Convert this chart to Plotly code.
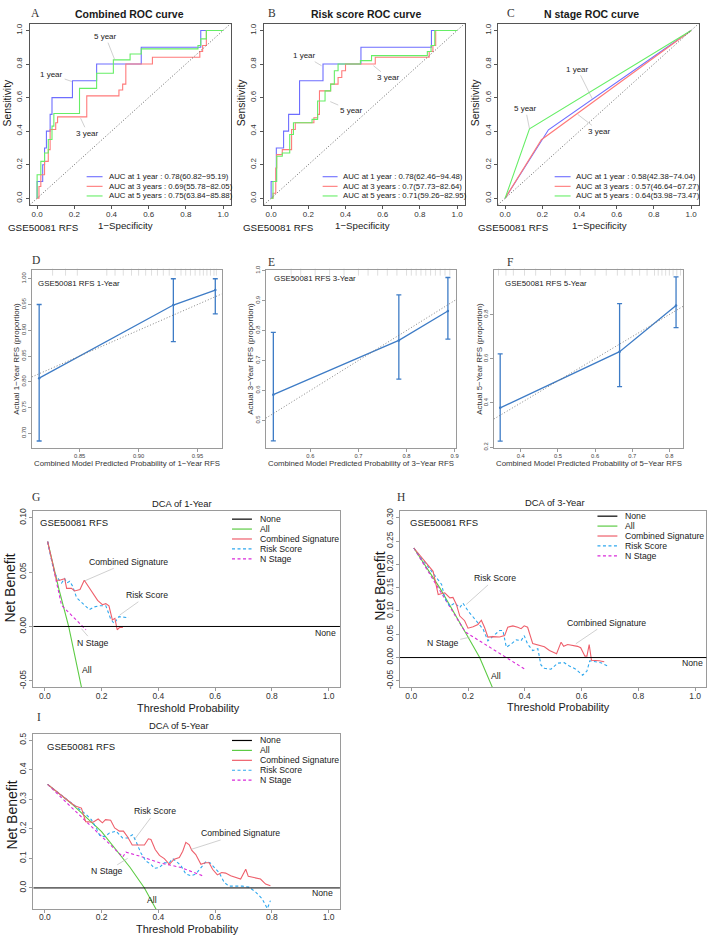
import plotly.graph_objects as go

W, H = 711, 941
SANS = "Liberation Sans, Arial, Helvetica, sans-serif"
SERIF = "Liberation Serif, Times New Roman, serif"

# ======================= DATA =======================
# ---- A: Combined ROC curve (1-specificity, sensitivity) ----
A_fpr_1y = [0, 0, 0.03, 0.03, 0.04, 0.04, 0.05, 0.05, 0.07, 0.07, 0.08, 0.08, 0.19, 0.19, 0.32, 0.32, 0.56, 0.56, 0.88, 0.88, 1.0]
A_tpr_1y = [0, 0.1, 0.1, 0.2, 0.2, 0.3, 0.3, 0.4, 0.4, 0.5, 0.5, 0.6, 0.6, 0.7, 0.7, 0.8, 0.8, 0.9, 0.9, 1.0, 1.0]
A_fpr_3y = [0, 0.01, 0.01, 0.02, 0.02, 0.04, 0.04, 0.06, 0.06, 0.07, 0.07, 0.10, 0.10, 0.11, 0.11, 0.267, 0.267, 0.44, 0.44, 0.46, 0.46, 0.477, 0.477, 0.62, 0.62, 0.875, 0.875, 0.89, 0.89, 0.91, 0.91, 1.0]
A_tpr_3y = [0, 0, 0.07, 0.07, 0.14, 0.14, 0.22, 0.22, 0.29, 0.29, 0.41, 0.41, 0.45, 0.45, 0.485, 0.485, 0.61, 0.61, 0.645, 0.645, 0.68, 0.68, 0.80, 0.80, 0.84, 0.84, 0.875, 0.875, 0.91, 0.91, 1.0, 1.0]
A_fpr_5y = [0, 0, 0.02, 0.02, 0.04, 0.04, 0.06, 0.06, 0.08, 0.08, 0.09, 0.09, 0.228, 0.228, 0.32, 0.32, 0.41, 0.41, 0.50, 0.50, 0.56, 0.56, 0.865, 0.865, 0.88, 0.88, 0.91, 0.91, 1.0]
A_tpr_5y = [0, 0.14, 0.14, 0.22, 0.22, 0.27, 0.27, 0.35, 0.35, 0.43, 0.43, 0.505, 0.505, 0.655, 0.655, 0.745, 0.745, 0.825, 0.825, 0.86, 0.86, 0.89, 0.89, 0.91, 0.91, 0.95, 0.95, 1.0, 1.0]
A_legend = ["AUC at 1 year : 0.78(60.82\u221295.19)",
            "AUC at 3 years : 0.69(55.78\u221282.05)",
            "AUC at 5 years : 0.75(63.84\u221285.88)"]

# ---- B: Risk score ROC curve ----
B_fpr_1y = [0, 0, 0.028, 0.028, 0.067, 0.067, 0.094, 0.094, 0.153, 0.153, 0.279, 0.279, 0.483, 0.483, 0.862, 0.862, 1.0]
B_tpr_1y = [0, 0.1, 0.1, 0.3, 0.3, 0.4, 0.4, 0.5, 0.5, 0.7, 0.7, 0.8, 0.8, 0.9, 0.9, 1.0, 1.0]
B_fpr_3y = [0, 0.01, 0.01, 0.025, 0.025, 0.03, 0.03, 0.06, 0.06, 0.11, 0.11, 0.13, 0.13, 0.23, 0.23, 0.25, 0.25, 0.26, 0.26, 0.32, 0.32, 0.36, 0.36, 0.38, 0.38, 0.40, 0.40, 0.56, 0.56, 0.85, 0.85, 0.87, 0.87, 0.885, 0.885, 1.0]
B_tpr_3y = [0, 0, 0.03, 0.03, 0.18, 0.18, 0.26, 0.26, 0.29, 0.29, 0.41, 0.41, 0.45, 0.45, 0.48, 0.48, 0.50, 0.50, 0.64, 0.64, 0.68, 0.68, 0.72, 0.72, 0.76, 0.76, 0.80, 0.80, 0.84, 0.84, 0.875, 0.875, 0.91, 0.91, 1.0, 1.0]
B_fpr_5y = [0, 0.01, 0.01, 0.03, 0.03, 0.06, 0.06, 0.10, 0.10, 0.12, 0.12, 0.22, 0.22, 0.25, 0.25, 0.29, 0.29, 0.32, 0.32, 0.34, 0.34, 0.36, 0.36, 0.48, 0.48, 0.54, 0.54, 0.84, 0.84, 0.86, 0.86, 0.88, 0.88, 1.0]
B_tpr_5y = [0, 0, 0.1, 0.1, 0.25, 0.25, 0.27, 0.27, 0.38, 0.38, 0.45, 0.45, 0.47, 0.47, 0.58, 0.58, 0.64, 0.64, 0.68, 0.68, 0.76, 0.76, 0.80, 0.80, 0.82, 0.82, 0.85, 0.85, 0.875, 0.875, 0.91, 0.91, 1.0, 1.0]
B_legend = ["AUC at 1 year : 0.78(62.46\u221294.48)",
            "AUC at 3 years : 0.7(57.73\u221282.64)",
            "AUC at 5 years : 0.71(59.26\u221282.95)"]

# ---- C: N stage ROC curve ----
C_fpr_1y = [0, 0.233, 1.0]
C_tpr_1y = [0, 0.408, 1.0]
C_fpr_3y = [0, 0.195, 1.0]
C_tpr_3y = [0, 0.349, 1.0]
C_fpr_5y = [0, 0.131, 1.0]
C_tpr_5y = [0, 0.414, 1.0]
C_legend = ["AUC at 1 year : 0.58(42.38\u221274.04)",
            "AUC at 3 years : 0.57(46.64\u221267.27)",
            "AUC at 5 years : 0.64(53.98\u221273.47)"]

roc_ticks = [0, 0.2, 0.4, 0.6, 0.8, 1.0]
roc_ticklabels = ["0.0", "0.2", "0.4", "0.6", "0.8", "1.0"]

# ---- D-F: calibration (predicted, observed, CI) ----
D_pred = [0.8156, 0.9295, 0.9651]
D_obs = [0.807, 0.949, 0.978]
D_lo = [0.685, 0.878, 0.932]
D_hi = [0.950, 1.000, 1.000]
D_rug = [0.827, 0.838, 0.848, 0.873, 0.880, 0.887, 0.894, 0.900, 0.906, 0.911, 0.916, 0.921,
         0.926, 0.931, 0.936, 0.940, 0.944, 0.948, 0.952, 0.955, 0.958, 0.961, 0.964, 0.966]
D_xticks, D_xlabels = [0.85, 0.90, 0.95], ["0.85", "0.90", "0.95"]
D_yticks = [0.70, 0.75, 0.80, 0.85, 0.90, 0.95, 1.00]
D_ylabels = ["0.70", "0.75", "0.80", "0.85", "0.90", "0.95", "1.00"]

E_pred = [0.523, 0.784, 0.886]
E_obs = [0.586, 0.767, 0.865]
E_lo = [0.432, 0.638, 0.771]
E_hi = [0.794, 0.919, 0.977]
E_rug = [0.56, 0.58, 0.61, 0.64, 0.67, 0.70, 0.72, 0.74, 0.76, 0.78, 0.80, 0.81,
         0.82, 0.83, 0.84, 0.85, 0.86, 0.87, 0.88, 0.89]
E_xticks, E_xlabels = [0.6, 0.7, 0.8, 0.9], ["0.6", "0.7", "0.8", "0.9"]
E_yticks = [0.5, 0.6, 0.7, 0.8, 0.9, 1.0]
E_ylabels = ["0.5", "0.6", "0.7", "0.8", "0.9", "1.0"]

F_pred = [0.3445, 0.666, 0.818]
F_obs = [0.378, 0.632, 0.841]
F_lo = [0.228, 0.474, 0.741]
F_hi = [0.622, 0.849, 0.970]
F_rug = [0.34, 0.36, 0.38, 0.41, 0.44, 0.48, 0.52, 0.56, 0.60, 0.63, 0.66, 0.68,
         0.70, 0.72, 0.74, 0.76, 0.77, 0.78, 0.79, 0.80, 0.81, 0.82, 0.83]
F_xticks, F_xlabels = [0.4, 0.5, 0.6, 0.7, 0.8], ["0.4", "0.5", "0.6", "0.7", "0.8"]
F_yticks, F_ylabels = [0.2, 0.4, 0.6, 0.8], ["0.2", "0.4", "0.6", "0.8"]

# ---- G: DCA of 1-Year ----
G_all_x = [0.01, 0.05, 0.084, 0.13]
G_all_y = [0.078, 0.034, 0.0, -0.057]
G_comb_x = [0.01, 0.029, 0.036, 0.041, 0.052, 0.070, 0.077, 0.094, 0.105, 0.124, 0.139, 0.157,
            0.172, 0.186, 0.203, 0.215, 0.226, 0.238, 0.247, 0.255, 0.263, 0.275]
G_comb_y = [0.078, 0.057, 0.047, 0.0425, 0.0425, 0.044, 0.035, 0.035, 0.0327, 0.034, 0.0425, 0.035,
            0.030, 0.024, 0.020, 0.021, 0.019, 0.006, 0.0075, -0.003, -0.001, -0.001]
G_risk_x = [0.01, 0.031, 0.041, 0.059, 0.070, 0.077, 0.088, 0.098, 0.112, 0.129, 0.157, 0.174,
            0.191, 0.215, 0.232, 0.244, 0.261, 0.296]
G_risk_y = [0.078, 0.052, 0.046, 0.040, 0.044, 0.040, 0.0415, 0.037, 0.0265, 0.022, 0.0155, 0.018,
            0.019, 0.019, 0.007, 0.0027, 0.009, 0.008]
G_n_x = [0.01, 0.059, 0.145]
G_n_y = [0.078, 0.0195, -0.003]
G_yticks, G_ylabels = [-0.05, 0.0, 0.05, 0.10], ["-0.05", "0.00", "0.05", "0.10"]

# ---- H: DCA of 3-Year ----
H_all_x = [0.009, 0.1, 0.2, 0.241, 0.29]
H_all_y = [0.235, 0.15, 0.044, 0.0, -0.07]
H_comb_x = [0.009, 0.077, 0.095, 0.118, 0.136, 0.147, 0.159, 0.171, 0.188, 0.200, 0.218, 0.235,
            0.247, 0.258, 0.270, 0.288, 0.311, 0.329, 0.340, 0.358, 0.375, 0.387, 0.398, 0.410,
            0.428, 0.452, 0.469, 0.487, 0.504, 0.512, 0.528, 0.537, 0.551, 0.568, 0.586, 0.597,
            0.612, 0.619, 0.627, 0.635, 0.650, 0.662, 0.680]
H_comb_y = [0.235, 0.185, 0.135, 0.139, 0.128, 0.129, 0.114, 0.089, 0.079, 0.063, 0.066, 0.071,
            0.080, 0.065, 0.044, 0.045, 0.044, 0.047, 0.065, 0.068, 0.065, 0.062, 0.068, 0.065,
            0.030, 0.026, 0.023, 0.015, 0.0105, 0.008, 0.033, 0.024, 0.028, 0.026, 0.024, 0.021,
            0.003, 0.003, 0.028, -0.006, -0.006, -0.007, -0.009]
H_risk_x = [0.009, 0.077, 0.089, 0.107, 0.118, 0.136, 0.153, 0.171, 0.182, 0.200, 0.218, 0.235,
            0.253, 0.270, 0.288, 0.311, 0.323, 0.335, 0.352, 0.370, 0.387, 0.398, 0.410, 0.428,
            0.446, 0.457, 0.469, 0.492, 0.516, 0.539, 0.557, 0.580, 0.604, 0.619, 0.629, 0.645,
            0.668, 0.691]
H_risk_y = [0.235, 0.181, 0.171, 0.157, 0.128, 0.110, 0.117, 0.107, 0.117, 0.100, 0.087, 0.075,
            0.061, 0.036, 0.045, 0.058, 0.058, 0.022, 0.029, 0.038, 0.036, 0.047, 0.029, 0.015,
            0.019, -0.016, -0.023, -0.025, -0.012, -0.011, -0.018, -0.025, -0.038, -0.029, -0.007, -0.009,
            -0.011, -0.018]
H_n_x = [0.009, 0.19, 0.398]
H_n_y = [0.235, 0.055, -0.024]
H_yticks = [-0.05, 0.0, 0.05, 0.10, 0.15, 0.20, 0.25, 0.30]
H_ylabels = ["-0.05", "0.00", "0.05", "0.10", "0.15", "0.20", "0.25", "0.30"]

# ---- I: DCA of 5-Year ----
I_all_x = [0.01, 0.1, 0.2, 0.3, 0.351, 0.392]
I_all_y = [0.35, 0.28, 0.19, 0.07, 0.0, -0.072]
I_comb_x = [0.01, 0.105, 0.129, 0.144, 0.170, 0.188, 0.203, 0.214, 0.232, 0.246, 0.263, 0.277,
            0.292, 0.308, 0.327, 0.351, 0.365, 0.374, 0.389, 0.404, 0.421, 0.439, 0.456, 0.474,
            0.486, 0.497, 0.509, 0.518, 0.532, 0.550, 0.565, 0.579, 0.591, 0.608, 0.623, 0.637,
            0.655, 0.673, 0.690, 0.708, 0.717, 0.737, 0.760, 0.778, 0.795]
I_comb_y = [0.35, 0.278, 0.270, 0.224, 0.222, 0.233, 0.220, 0.231, 0.229, 0.203, 0.192, 0.192,
            0.172, 0.145, 0.145, 0.145, 0.166, 0.164, 0.130, 0.110, 0.099, 0.080, 0.097, 0.103,
            0.124, 0.154, 0.146, 0.127, 0.113, 0.080, 0.085, 0.085, 0.063, 0.044, 0.052, 0.050,
            0.041, 0.035, 0.030, 0.063, 0.039, 0.035, 0.030, 0.013, 0.007]
I_risk_x = [0.01, 0.105, 0.146, 0.164, 0.181, 0.193, 0.211, 0.228, 0.251, 0.274, 0.292, 0.309,
            0.321, 0.338, 0.356, 0.374, 0.386, 0.404, 0.421, 0.439, 0.450, 0.462, 0.480, 0.497,
            0.515, 0.532, 0.550, 0.568, 0.582, 0.596, 0.614, 0.632, 0.649, 0.673, 0.696, 0.719,
            0.743, 0.766, 0.784, 0.795]
I_risk_y = [0.35, 0.278, 0.248, 0.231, 0.203, 0.178, 0.173, 0.186, 0.192, 0.169, 0.169, 0.180,
            0.158, 0.119, 0.091, 0.080, 0.066, 0.069, 0.085, 0.085, 0.099, 0.091, 0.075, 0.047,
            0.041, 0.047, 0.069, 0.089, 0.085, 0.069, 0.052, 0.019, 0.006, 0.006, 0.006, 0.003,
            -0.014, -0.037, -0.070, -0.043]
I_n_x = [0.01, 0.275, 0.286, 0.333, 0.404, 0.480, 0.556]
I_n_y = [0.35, 0.105, 0.121, 0.108, 0.085, 0.069, 0.041]
I_yticks, I_ylabels = [0.0, 0.1, 0.2, 0.3, 0.4, 0.5], ["0.0", "0.1", "0.2", "0.3", "0.4", "0.5"]

dca_xticks = [0, 0.2, 0.4, 0.6, 0.8, 1.0]
dca_xlabels = ["0.0", "0.2", "0.4", "0.6", "0.8", "1.0"]
dca_series = ["None", "All", "Combined Signature", "Risk Score", "N Stage"]

# ======================= STYLE =======================
ROC_COL = ["#6E6EFF", "#FF7A7A", "#66EE66"]
CAL_COL = "#3E7CC6"
DCA_COL = {"None": "#000000", "All": "#5DCB45", "Combined Signature": "#EE5F6B",
           "Risk Score": "#2FA8EE", "N Stage": "#D92BD9"}
DCA_DASH = {"None": "solid", "All": "solid", "Combined Signature": "solid",
            "Risk Score": "3px,2.5px", "N Stage": "3px,2.5px"}
DOT = "1px,2px"

fig = go.Figure()
layout = {}
annotations = []
shapes = []


def names(i):
    return ("xaxis" if i == 1 else f"xaxis{i}", "yaxis" if i == 1 else f"yaxis{i}",
            "x" if i == 1 else f"x{i}", "y" if i == 1 else f"y{i}")


def setup_axes(i, box, xr, yr, xt, xl, yt, yl, tsize, lcolor, tcolor="#333", xstand=0):
    xn, yn, xref, yref = names(i)
    l, r, t, b = box
    common = dict(showgrid=False, zeroline=False, showline=True, mirror=True,
                  linecolor=lcolor, linewidth=1, ticks="outside", ticklen=3,
                  tickwidth=0.8, tickcolor=lcolor, fixedrange=True)
    layout[xn] = dict(domain=[l / W, r / W], range=xr, tickvals=xt, ticktext=xl,
                      ticklabelstandoff=xstand,
                      tickfont=dict(size=tsize, color=tcolor, family=SANS), anchor=yref, **common)
    layout[yn] = dict(domain=[1 - b / H, 1 - t / H], range=yr, tickvals=yt, ticktext=yl,
                      tickangle=-90, tickfont=dict(size=tsize, color=tcolor, family=SANS),
                      anchor=xref, **common)
    return xref, yref


def text(px, py, s, size, family=SANS, color="#1a1a1a", xanchor="center", angle=0):
    annotations.append(dict(x=px / W, y=1 - py / H, xref="paper", yref="paper", text=s,
                            showarrow=False, font=dict(size=size, family=family, color=color),
                            xanchor=xanchor, yanchor="middle", textangle=angle))


def pointer(xref, yref, tip, s, dx, dy, size):
    annotations.append(dict(x=tip[0], y=tip[1], xref=xref, yref=yref, text=s, showarrow=True,
                            arrowhead=0, arrowwidth=0.6, arrowcolor="#b0b0b0", ax=dx, ay=dy,
                            standoff=0, font=dict(size=size, family=SANS, color="#1a1a1a")))


def legend_item(x0, x1, tx, py, color, dash, label, size, width=1.1):
    shapes.append(dict(type="line", xref="paper", yref="paper", x0=x0 / W, x1=x1 / W,
                       y0=1 - py / H, y1=1 - py / H, line=dict(color=color, width=width, dash=dash)))
    text(tx, py, label, size, xanchor="left")


# ======================= ROC PANELS =======================
roc_panels = [
    dict(i=1, box=(29.8, 231.5, 19.9, 202.5), title="Combined ROC curve", title_x=130.5, letter="A", letter_x=36,
         curves=[(A_fpr_1y, A_tpr_1y), (A_fpr_3y, A_tpr_3y), (A_fpr_5y, A_tpr_5y)], legend=A_legend,
         leg_x=(87, 103, 107), ylab_x=7.3, gse_x=43.4, spec_x=126,
         ptrs=[((0.417, 0.826), "5 year", -9, -23), ((0.186, 0.696), "1 year", -20, -7),
               ((0.234, 0.477), "3 year", 7, 15)]),
    dict(i=2, box=(264.8, 466.5, 19.9, 202.5), title="Risk score ROC curve", title_x=368, letter="B", letter_x=273,
         curves=[(B_fpr_1y, B_tpr_1y), (B_fpr_3y, B_tpr_3y), (B_fpr_5y, B_tpr_5y)], legend=B_legend,
         leg_x=(324, 339, 342), ylab_x=242, gse_x=280, spec_x=364,
         ptrs=[((0.271, 0.79), "1 year", -17, -10), ((0.55, 0.79), "3 year", 15, 12),
               ((0.318, 0.576), "5 year", 21, 9)]),
    dict(i=3, box=(499.8, 701.5, 19.9, 202.5), title="N stage ROC curve", title_x=594.5, letter="C", letter_x=513,
         curves=[(C_fpr_1y, C_tpr_1y), (C_fpr_3y, C_tpr_3y), (C_fpr_5y, C_tpr_5y)], legend=C_legend,
         leg_x=(557, 573, 576), ylab_x=477, gse_x=516, spec_x=602,
         ptrs=[((0.47, 0.59), "1 year", -15, -30), ((0.131, 0.414), "5 year", -4, -20),
               ((0.39, 0.50), "3 year", 22, 17)]),
]
for p in roc_panels:
    xr_, yr_ = setup_axes(p["i"], p["box"], [-0.04, 1.04], [-0.04, 1.04], roc_ticks, roc_ticklabels,
                          roc_ticks, roc_ticklabels, 8, "#555555", xstand=-2)
    shapes.append(dict(type="line", xref=xr_ + " domain", yref=yr_ + " domain", x0=0, y0=0, x1=1, y1=1,
                       line=dict(color="#555555", width=0.9, dash=DOT)))
    for (fx, ty), col in zip(p["curves"], ROC_COL):
        fig.add_trace(go.Scatter(x=fx, y=ty, mode="lines", line=dict(color=col, width=1.1),
                                 xaxis=xr_, yaxis=yr_, hoverinfo="skip"))
    text(p["title_x"], 10, "<b>" + p["title"] + "</b>", 10.5)
    text(p["letter_x"], 9, p["letter"], 11.5, family=SERIF, color="#333")
    text(p["ylab_x"], 99, "Sensitivity", 10.4, angle=-90)
    text(p["gse_x"], 225, "GSE50081 RFS", 9.8)
    text(p["spec_x"], 223, "1\u2212Specificity", 9.7)
    for row, (lab, col) in enumerate(zip(p["legend"], ROC_COL)):
        lx0, lx1, tx = p["leg_x"]
        legend_item(lx0, lx1, tx, 174 + row * 9.7, col, "solid", lab, 7.8, width=1.1)
    for tip, s, dx, dy in p["ptrs"]:
        pointer(xr_, yr_, tip, s, dx, dy, 8)

# ======================= CALIBRATION PANELS =======================
cal_panels = [
    dict(i=4, box=(32, 222.7, 268, 447), xr=[0.8094, 0.9706], yr=[0.672, 1.017],
         pred=D_pred, obs=D_obs, lo=D_lo, hi=D_hi, rug=D_rug,
         xt=D_xticks, xl=D_xlabels, yt=D_yticks, yl=D_ylabels, letter="D", letter_xy=(36, 258),
         inner="GSE50081 RFS 1-Year", inner_xy=(36, 282), ylab_x=17, xlab_x=127.4, yr_txt="1"),
    dict(i=5, box=(267, 458, 268, 447), xr=[0.5075, 0.903], yr=[0.409, 1.002],
         pred=E_pred, obs=E_obs, lo=E_lo, hi=E_hi, rug=E_rug,
         xt=E_xticks, xl=E_xlabels, yt=E_yticks, yl=E_ylabels, letter="E", letter_xy=(273, 260),
         inner="GSE50081 RFS 3-Year", inner_xy=(273, 277), ylab_x=252, xlab_x=362.5, yr_txt="3"),
    dict(i=6, box=(496, 686, 268, 447), xr=[0.3276, 0.837], yr=[0.198, 1.001],
         pred=F_pred, obs=F_obs, lo=F_lo, hi=F_hi, rug=F_rug,
         xt=F_xticks, xl=F_xlabels, yt=F_yticks, yl=F_ylabels, letter="F", letter_xy=(512, 260),
         inner="GSE50081 RFS 5-Year", inner_xy=(505, 282), ylab_x=482, xlab_x=591, yr_txt="5"),
]
for p in cal_panels:
    xr_, yr_ = setup_axes(p["i"], p["box"], p["xr"], p["yr"], p["xt"], p["xl"], p["yt"], p["yl"],
                          5.8, "#9a9a9a", "#444", xstand=-1)
    d0 = max(p["xr"][0], p["yr"][0])
    d1 = min(p["xr"][1], p["yr"][1])
    shapes.append(dict(type="line", xref=xr_, yref=yr_, x0=d0, y0=d0, x1=d1, y1=d1,
                       line=dict(color="#777777", width=0.9, dash=DOT)))
    rug_y = p["yr"][1] - 0.012 * (p["yr"][1] - p["yr"][0])
    fig.add_trace(go.Scatter(x=p["rug"], y=[rug_y] * len(p["rug"]), mode="markers",
                             marker=dict(symbol="line-ns-open", size=5, color="#c8c8c8",
                                         line=dict(color="#c8c8c8", width=0.6)),
                             xaxis=xr_, yaxis=yr_, hoverinfo="skip", cliponaxis=False))
    err_plus = [h - o for h, o in zip(p["hi"], p["obs"])]
    err_minus = [o - l for o, l in zip(p["obs"], p["lo"])]
    fig.add_trace(go.Scatter(x=p["pred"], y=p["obs"], mode="lines+markers",
                             line=dict(color=CAL_COL, width=1.3),
                             marker=dict(size=2.5, color=CAL_COL),
                             error_y=dict(type="data", array=err_plus, arrayminus=err_minus,
                                          color=CAL_COL, thickness=1.3, width=2.5),
                             xaxis=xr_, yaxis=yr_, hoverinfo="skip"))
    text(p["letter_xy"][0], p["letter_xy"][1], p["letter"], 11.5, family=SERIF, color="#333")
    text(p["inner_xy"][0], p["inner_xy"][1], p["inner"], 7.9, xanchor="left")
    text(p["ylab_x"], 357.5, f"Actual {p['yr_txt']}\u2212Year RFS (proportion)", 8, angle=-90, color="#333")
    text(p["xlab_x"], 463, f"Combined Model Predicted Probability of {p['yr_txt']}\u2212Year RFS", 7.8, color="#333")

# ======================= DCA PANELS =======================
dca_panels = [
    dict(i=7, box=(33.6, 341.4, 511, 688.5), yr=[-0.056, 0.106], yt=G_yticks, yl=G_ylabels,
         series={"All": (G_all_x, G_all_y), "Combined Signature": (G_comb_x, G_comb_y),
                 "Risk Score": (G_risk_x, G_risk_y), "N Stage": (G_n_x, G_n_y)},
         title="DCA of 1-Year", title_xy=(183, 503), letter="G", letter_xy=(36, 497),
         nb_xy=(10, 588), tp_xy=(189, 709), gse_xy=(38, 522),
         leg=(233, 253, 259, 519),
         ptrs=[((0.141, 0.042), "Combined Signature", 44, -19), ((0.263, 0.0103), "Risk Score", 28, -20),
               ((0.129, -0.002), "N Stage", 12, 14)],
         all_xy=(87, 671), none_xy=(327, 634)),
    dict(i=8, box=(401.6, 709.4, 511, 688.5), yr=[-0.064, 0.314], yt=H_yticks, yl=H_ylabels,
         series={"All": (H_all_x, H_all_y), "Combined Signature": (H_comb_x, H_comb_y),
                 "Risk Score": (H_risk_x, H_risk_y), "N Stage": (H_n_x, H_n_y)},
         title="DCA of 3-Year", title_xy=(557, 502), letter="H", letter_xy=(403, 497),
         nb_xy=(381.7, 587), tp_xy=(561, 708), gse_xy=(410, 522),
         leg=(600, 620, 626, 516),
         ptrs=[((0.194, 0.114), "Risk Score", 29, -26), ((0.58, 0.0296), "Combined Signature", 31, -21),
               ((0.206, 0.0436), "N Stage", -27, 6)],
         all_xy=(498, 677), none_xy=(695, 664)),
    dict(i=9, box=(33.6, 341.4, 735, 912), yr=[-0.072, 0.522], yt=I_yticks, yl=I_ylabels,
         series={"All": (I_all_x, I_all_y), "Combined Signature": (I_comb_x, I_comb_y),
                 "Risk Score": (I_risk_x, I_risk_y), "N Stage": (I_n_x, I_n_y)},
         title="DCA of 5-Year", title_xy=(180, 727), letter="I", letter_xy=(39, 718),
         nb_xy=(11.7, 817), tp_xy=(188.3, 932), gse_xy=(45, 748),
         leg=(233, 253, 259, 742),
         ptrs=[((0.316, 0.164), "Risk Score", 21, -28), ((0.515, 0.130), "Combined Signature", 50, -16),
               ((0.292, 0.10), "N Stage", -21, 13)],
         all_xy=(153, 903), none_xy=(324, 896)),
]
for p in dca_panels:
    xr_, yr_ = setup_axes(p["i"], p["box"], [-0.04, 1.04], p["yr"], dca_xticks, dca_xlabels,
                          p["yt"], p["yl"], 8.5, "#9a9a9a", "#333", xstand=-3)
    shapes.append(dict(type="line", xref=xr_ + " domain", yref=yr_, x0=0, x1=1, y0=0, y1=0,
                       line=dict(color=DCA_COL["None"], width=1)))
    for name in ["All", "N Stage", "Risk Score", "Combined Signature"]:
        sx, sy = p["series"][name]
        fig.add_trace(go.Scatter(x=sx, y=sy, mode="lines",
                                 line=dict(color=DCA_COL[name], width=1.1, dash=DCA_DASH[name]),
                                 xaxis=xr_, yaxis=yr_, hoverinfo="skip"))
    text(p["title_xy"][0], p["title_xy"][1], p["title"], 9.4)
    text(p["letter_xy"][0], p["letter_xy"][1], p["letter"], 11.5, family=SERIF, color="#333")
    text(p["nb_xy"][0], p["nb_xy"][1], "Net Benefit", 14, angle=-90)
    text(p["tp_xy"][0], p["tp_xy"][1], "Threshold Probability", 10.9)
    text(p["gse_xy"][0], p["gse_xy"][1], "GSE50081 RFS", 9.5, xanchor="left")
    lx0, lx1, tx, ly = p["leg"]
    for k, name in enumerate(dca_series):
        legend_item(lx0, lx1, tx, ly + k * 10, DCA_COL[name], DCA_DASH[name], name, 8.7, width=1.2)
    for tip, s, dx, dy in p["ptrs"]:
        pointer(xr_, yr_, tip, s, dx, dy, 8.7)
    text(p["all_xy"][0], p["all_xy"][1], "All", 8.7)
    text(p["none_xy"][0], p["none_xy"][1], "None", 8.7)

fig.update_layout(width=W, height=H, margin=dict(l=0, r=0, t=0, b=0), paper_bgcolor="white",
                  plot_bgcolor="white", showlegend=False, font=dict(family=SANS, color="#222"),
                  annotations=annotations, shapes=shapes, **layout)
fig.write_html("out.html", config={"displayModeBar": False},
               post_script="document.body.style.margin='0px';document.body.style.padding='0px';"
                           "document.documentElement.style.overflow='hidden';")
